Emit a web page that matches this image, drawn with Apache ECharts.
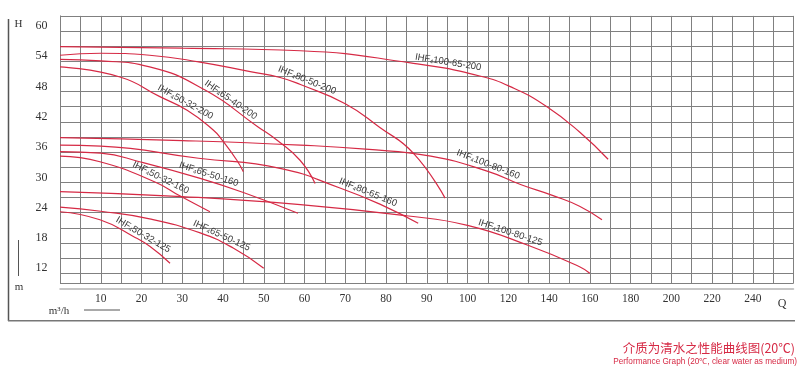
<!DOCTYPE html>
<html><head><meta charset="utf-8">
<script src="https://cdn.jsdelivr.net/npm/echarts@6/dist/echarts.min.js"></script>
<style>html,body{margin:0;padding:0;background:#fff}#c{width:800px;height:373px}</style>
</head><body><div id="c"></div>
<script>
// ---------- data ----------
const curveNames = ['IHF100-65-200','IHF80-50-200','IHF65-40-200','IHF50-32-200',
  'IHF100-80-160','IHF80-65-160','IHF65-50-160','IHF50-32-160',
  'IHF100-80-125','IHF65-50-125','IHF50-32-125'];

const q_100_65_200 = [0, 30, 59, 86, 106, 123, 139, 155, 169];
const h_100_65_200 = [56.9, 56.6, 56.1, 53.7, 51.1, 48.6, 45.0, 40.0, 34.6];

const q_80_50_200 = [0, 10, 22, 34, 47, 54, 59, 70, 78.5, 86.7, 94.5];
const h_80_50_200 = [55.2, 55.6, 55.2, 53.9, 51.9, 50.8, 49.4, 45.6, 40.9, 35.8, 26.9];

const q_65_40_200 = [0, 10, 22, 35.6, 48.6, 53.2, 58.9, 62.6];
const h_65_40_200 = [54.4, 54.1, 52.9, 48.3, 41.0, 38.4, 34.4, 29.8];

const q_50_32_200 = [0, 14.7, 24.5, 31.2, 37.6, 39.8, 43.4, 45];
const h_50_32_200 = [52.9, 50.9, 47.0, 44.3, 40.4, 38.4, 34.4, 32.1];

const q_100_80_160 = [0, 30, 59, 75, 91, 110, 126, 142, 155, 166];
const h_100_80_160 = [38.9, 38.3, 37.4, 36.6, 35.2, 32.2, 29.6, 27.4, 25.3, 22.6];

const q_80_65_160 = [0, 10, 34, 54, 68.7, 78.5, 87.9];
const h_80_65_160 = [37.4, 37.2, 34.8, 32.8, 28.9, 25.7, 21.9];

const q_65_50_160 = [0, 10, 20, 34.4, 45, 58.4];
const h_65_50_160 = [36.1, 35.8, 34.0, 30.8, 28.0, 23.9];

const q_50_32_160 = [0, 9.8, 23.3, 29.5, 36.8];
const h_50_32_160 = [35.2, 34.1, 30.1, 27.3, 24.2];

const q_100_80_125 = [0, 30, 59, 85, 100, 130, 155, 160];
const h_100_80_125 = [28.2, 27.2, 25.6, 23.4, 21.5, 17.5, 13.3, 12.0];

const q_65_50_125 = [0, 10, 22, 34.4, 42.5, 50];
const h_65_50_125 = [25.1, 24.3, 22.8, 20.0, 17.0, 13.0];

const q_50_32_125 = [0, 9.8, 18, 22.1, 27];
const h_50_32_125 = [24.2, 22.6, 19.3, 17.3, 14.0];

// flow at which each curve name is written
const labelFlow = [95, 60, 41, 30, 109, 75, 36, 24, 120, 39, 19.6];

const flowTicks = [10,20,30,40,50,60,70,80,90,100,120,140,160,180,200,220,240];
const headTicks = [12,18,24,30,36,42,48,54,60];

// ---------- helpers ----------
const curveQ = [q_100_65_200,q_80_50_200,q_65_40_200,q_50_32_200,q_100_80_160,q_80_65_160,q_65_50_160,q_50_32_160,q_100_80_125,q_65_50_125,q_50_32_125];
const curveH = [h_100_65_200,h_80_50_200,h_65_40_200,h_50_32_200,h_100_80_160,h_80_65_160,h_65_50_160,h_50_32_160,h_100_80_125,h_65_50_125,h_50_32_125];

// the flow axis is scaled 1:1 up to 100 m3/h and 1:2 above
function toT(q){ return q <= 100 ? q : 100 + (q - 100) / 2; }
function fromT(t){ return t <= 100 ? t : 100 + (t - 100) * 2; }
function interp(xs, ys, x){
  for (let i = 0; i < xs.length - 1; i++) {
    if (x >= xs[i] && x <= xs[i+1]) {
      const f = (x - xs[i]) / (xs[i+1] - xs[i]);
      return ys[i] + f * (ys[i+1] - ys[i]);
    }
  }
  return ys[ys.length - 1];
}

const RED = '#d62a45';
const GRID = '#808080';
const SERIF = '"Liberation Serif", "DejaVu Serif", serif';
const SANS = '"Liberation Sans", Arial, sans-serif';

const splitColors = [];
for (let v = 10; v <= 63; v++) splitColors.push((v === 10 || v % 3 === 0) ? GRID : 'rgba(0,0,0,0)');

const series = curveNames.map((n, i) => ({
  name: n, type: 'line', showSymbol: false, smooth: 0.5,
  silent: true, animation: false,
  lineStyle: { color: RED, width: 1.2 },
  data: curveQ[i].map((q, k) => [toT(q), curveH[i][k]])
}));

const option = {
  animation: false,
  backgroundColor: '#fff',
  grid: { left: 60, right: 6.5, top: 15.9, bottom: 89.6, containLabel: false },
  xAxis: {
    type: 'value', min: 0, max: 180, interval: 5, offset: 5,
    axisLine: { show: true, lineStyle: { color: '#b4b4b4', width: 1.5 } },
    axisTick: { show: false },
    splitLine: { show: true, lineStyle: { color: GRID, width: 1 } },
    axisLabel: {
      margin: 5, fontFamily: SERIF, fontSize: 11.5, color: '#333',
      formatter: t => { const q = fromT(t); return (t % 10 === 0 && flowTicks.indexOf(q) >= 0) ? String(q) : ''; }
    }
  },
  yAxis: {
    type: 'value', min: 10, max: 63, interval: 1,
    axisLine: { show: true, lineStyle: { color: GRID, width: 1 } },
    axisTick: { show: false },
    splitLine: { show: true, lineStyle: { color: splitColors, width: 1 } },
    axisLabel: {
      margin: 12.5, fontFamily: SERIF, fontSize: 12, color: '#333',
      verticalAlign: 'bottom', lineHeight: 10,
      formatter: v => headTicks.indexOf(v) >= 0 ? String(v) : ''
    }
  },
  series: series
};

const chart = echarts.init(document.getElementById('c'), null, { renderer: 'canvas' });
chart.setOption(option);

// curve name labels, placed on the curves through the chart's own scales
const labelEls = curveNames.map((n, i) => {
  const q = labelFlow[i];
  const d = 2;
  const pA = chart.convertToPixel({ gridIndex: 0 }, [toT(q - d), interp(curveQ[i], curveH[i], q - d)]);
  const pB = chart.convertToPixel({ gridIndex: 0 }, [toT(q + d), interp(curveQ[i], curveH[i], q + d)]);
  const p = chart.convertToPixel({ gridIndex: 0 }, [toT(q), interp(curveQ[i], curveH[i], q)]);
  const a = Math.atan2(pB[1] - pA[1], pB[0] - pA[0]);
  const g = 1.5;
  const rest = n.slice(3);
  return {
    type: 'text', silent: true,
    x: p[0] + Math.sin(a) * g, y: p[1] - Math.cos(a) * g, rotation: -a,
    style: {
      text: '{m|IHF}{s|4}{m|' + rest + '}',
      align: 'center', verticalAlign: 'bottom',
      rich: {
        m: { fontSize: 9.5, fill: '#3a3a3a', fontFamily: SANS, verticalAlign: 'bottom' },
        s: { fontSize: 5.5, fill: '#3a3a3a', fontFamily: SANS, verticalAlign: 'bottom' }
      }
    }
  };
});

const staticEls = [
  { type: 'line', silent: true, shape: { x1: 8.5, y1: 19, x2: 8.5, y2: 321 }, style: { stroke: '#555', lineWidth: 1.5 } },
  { type: 'line', silent: true, shape: { x1: 8, y1: 320.8, x2: 795, y2: 320.8 }, style: { stroke: '#777', lineWidth: 1.5 } },
  { type: 'line', silent: true, shape: { x1: 18.5, y1: 240, x2: 18.5, y2: 276 }, style: { stroke: '#555', lineWidth: 1 } },
  { type: 'line', silent: true, shape: { x1: 84, y1: 310, x2: 120, y2: 310 }, style: { stroke: '#555', lineWidth: 1 } },
  { type: 'text', silent: true, x: 18.5, y: 24.5, style: { text: 'H', font: '11px ' + SERIF, fill: '#333', align: 'center', verticalAlign: 'middle' } },
  { type: 'text', silent: true, x: 19, y: 287, style: { text: 'm', font: '11px ' + SERIF, fill: '#333', align: 'center', verticalAlign: 'middle' } },
  { type: 'text', silent: true, x: 59, y: 311, style: { text: 'm³/h', font: '11px ' + SERIF, fill: '#333', align: 'center', verticalAlign: 'middle' } },
  { type: 'text', silent: true, x: 782, y: 304, style: { text: 'Q', font: '12px ' + SERIF, fill: '#333', align: 'center', verticalAlign: 'middle' } },
  { type: 'text', silent: true, x: 795, y: 348, style: { text: '介质为清水之性能曲线图(20℃)', font: '12.5px "Noto Sans CJK SC", sans-serif', fill: RED, align: 'right', verticalAlign: 'middle' } },
  { type: 'text', silent: true, x: 797, y: 362, style: { text: 'Performance Graph (20℃, clear water as medium)', font: '8.2px ' + SANS, fill: RED, align: 'right', verticalAlign: 'middle' } }
];

chart.setOption({ graphic: staticEls.concat(labelEls) });
</script>
</body></html>
